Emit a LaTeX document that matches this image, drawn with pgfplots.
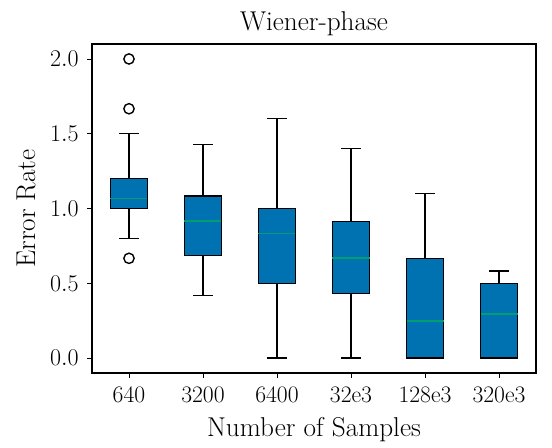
\documentclass[border=0pt]{standalone}
\usepackage{pgfplots}
\pgfplotsset{compat=1.18}
\usepgfplotslibrary{statistics}
\definecolor{bxblue}{RGB}{0,114,178}
\definecolor{mdgreen}{RGB}{0,158,115}
\begin{document}
\begin{tikzpicture}
\begin{axis}[
  name=ax,
  scale only axis,
  width=319.7pt, height=236.9pt,
  xmin=0.5, xmax=6.5,
  ymin=-0.1, ymax=2.1,
  xtick={1,2,3,4,5,6},
  xticklabels={640,3200,6400,32e3,128e3,320e3},
  ytick={0,0.5,1,1.5,2},
  yticklabel style={xshift=-2.5pt, /pgf/number format/.cd,fixed,fixed zerofill,precision=1},
  tick align=outside,
  xtick pos=left, ytick pos=left,
  major tick length=3.6pt,
  tick style={black, line width=0.6pt},
  axis line style={line width=0.9pt},
  ticklabel style={font=\fontsize{17}{18}\selectfont},
  xticklabel style={yshift=-3pt},
  xlabel={Number of Samples},
  ylabel={Error Rate},
  title={Wiener-phase},
  label style={font=\fontsize{19.6}{21}\selectfont},
  title style={font=\fontsize{19.6}{21}\selectfont, at={(axis description cs:0.5,1)}, anchor=base, yshift=4pt},
  xlabel style={at={(axis description cs:0.5,0)}, anchor=base, yshift=-45.4pt},
  ylabel style={at={(axis description cs:-0.128,0.5)}, anchor=base},
  boxplot/draw direction=y,
  boxplot/box extend=0.5,
  boxplot/whisker extend=0.27,
  boxplot/every box/.style={draw=black, fill=bxblue, line width=1pt},
  boxplot/every whisker/.style={black, line width=1pt},
  boxplot/every median/.style={draw=mdgreen, line width=1.2pt},
]
\addplot[black, mark=o, mark size=3.7pt, mark options={solid, draw=black, fill=none, line width=1pt}, boxplot prepared={draw position=1, lower whisker=0.8, lower quartile=1.0, median=1.067, upper quartile=1.2, upper whisker=1.5}] table[row sep=\\, y index=0] {2.0\\ 1.667\\ 0.667\\};
\addplot[black, boxplot prepared={draw position=2, lower whisker=0.417, lower quartile=0.685, median=0.915, upper quartile=1.083, upper whisker=1.426}] coordinates {};
\addplot[black, boxplot prepared={draw position=3, lower whisker=0.0, lower quartile=0.5, median=0.833, upper quartile=1.0, upper whisker=1.6}] coordinates {};
\addplot[black, boxplot prepared={draw position=4, lower whisker=0.0, lower quartile=0.433, median=0.667, upper quartile=0.914, upper whisker=1.4}] coordinates {};
\addplot[black, boxplot prepared={draw position=5, lower whisker=0.0, lower quartile=0.0, median=0.25, upper quartile=0.667, upper whisker=1.1}] coordinates {};
\addplot[black, boxplot prepared={draw position=6, lower whisker=0.0, lower quartile=0.0, median=0.296, upper quartile=0.5, upper whisker=0.583}] coordinates {};
\end{axis}
\pgfresetboundingbox
\path ([shift={(-66.24pt,-53.28pt)}]ax.south west) rectangle ([shift={(11.52pt,31.68pt)}]ax.north east);
\end{tikzpicture}
\end{document}
